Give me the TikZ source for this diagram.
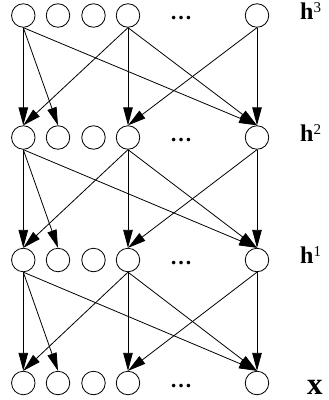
\documentclass[tikz,border=0pt]{standalone}
\usepackage{fontspec}
\setmainfont{Liberation Serif}
\usetikzlibrary{arrows.meta}
\newcommand{\supnum}[1]{\raisebox{7pt}{\fontsize{15}{15}\selectfont #1}}
\tikzset{
  unit/.style={circle,draw,line width=0.8pt,minimum size=23.5pt,inner sep=0pt},
  conn/.style={line width=0.8pt,-{Triangle[length=18pt,width=9.5pt]}},
  dots/.style={inner sep=0pt,font=\fontsize{22}{22}\selectfont\bfseries},
  lbl/.style={inner sep=0pt,anchor=base west,font=\fontsize{24}{24}\selectfont},
  xlbl/.style={inner sep=0pt,anchor=base west,font=\fontsize{31}{31}\selectfont}
}
\begin{document}
\begin{tikzpicture}[x=1pt,y=-1pt]
\useasboundingbox (0,0) rectangle (329,400);
\foreach \r/\yy in {3/15.5,2/137.5,1/260,0/383}{
  \node[unit] (n\r a) at (23.3,\yy) {};
  \node[unit] (n\r b) at (58,\yy) {};
  \node[unit] (n\r c) at (93.5,\yy) {};
  \node[unit] (n\r d) at (128,\yy) {};
  \node[unit] (n\r e) at (257,\yy) {};
  \node[dots,anchor=base] (dots\r) at (181,\yy+4) {…};
}
\node[lbl] (lab3) at (300,19.5) {\textbf{h}\supnum{3}};
\node[lbl] (lab2) at (300,141) {\textbf{h}\supnum{2}};
\node[lbl] (lab1) at (300,263.5) {\textbf{h}\supnum{1}};
\node[xlbl] (lab0) at (307,394) {\textbf{x}};
\foreach \u/\l in {3/2,2/1,1/0}{
  \draw[conn] (n\u a.south) -- (n\l a.north);
  \draw[conn] (n\u a.south) -- (n\l b.north);
  \draw[conn] (n\u a.south) -- (n\l e.north);
  \draw[conn] (n\u d.south) -- (n\l a.north);
  \draw[conn] (n\u d.south) -- (n\l d.north);
  \draw[conn] (n\u d.south) -- (n\l e.north);
  \draw[conn] (n\u e.south) -- (n\l d.north);
  \draw[conn] (n\u e.south) -- (n\l e.north);
}
\end{tikzpicture}
\end{document}
